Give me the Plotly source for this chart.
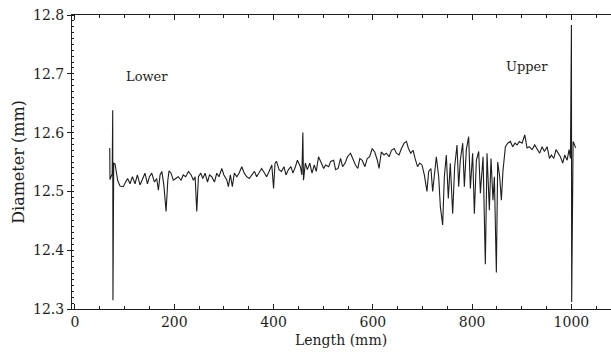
import plotly.graph_objects as go

# Length (mm) and diameter (mm)
length_mm = [
    70, 70.5, 75, 76, 76.5, 78, 80.6, 86, 90.7, 97.4, 102, 106, 111, 115.6, 121, 125.7, 131, 136, 141, 146,
    150, 154.6, 160, 164.6, 168, 171.4, 175, 179, 183.5, 187, 189.5, 193.6, 198, 203, 208, 213.7, 218, 223,
    228.5, 234, 238.6, 242, 245.3, 248.7, 253.4, 257.4, 262, 267, 271, 275.5, 281, 285.6, 290, 295.7, 300,
    306, 309, 313, 317, 321, 326, 330.5, 336, 341, 346, 351, 356, 361.6, 366, 371, 376, 382, 386, 391,
    396.5, 400, 403, 406, 411, 416, 421, 425, 430, 435, 439, 444, 448, 454, 457, 459, 460.3, 464, 468, 473,
    477.5, 482, 486, 490.6, 495, 501, 505, 511, 515, 521, 525, 530, 535, 539, 544, 549, 555, 559.5, 565,
    569.8, 573.8, 578.6, 584, 588.7, 593.5, 598.8, 603.8, 609, 612.5, 617, 622.6, 627, 632.8, 637.5, 643,
    647.5, 652.8, 657.6, 663, 667.7, 671.7, 676.4, 681, 685, 690, 694.5, 699, 703.7, 709, 712.4, 717,
    720.5, 724.5, 727.9, 732.6, 736, 740.6, 744, 748, 752, 756, 760.8, 764.8, 769.5, 772.9, 776.2, 781,
    784.3, 788.3, 793, 796.4, 801, 804.5, 808.5, 813.2, 816.6, 822, 826.6, 830, 834.7, 838, 842, 844.8,
    848.8, 851.5, 855.5, 858.9, 862, 867, 871.7, 877, 881.7, 886.4, 890.5, 895, 900.6, 906, 910.6, 915,
    920.7, 926, 930.8, 936, 940.9, 945.6, 951, 955.7, 959.7, 964.4, 969, 973.8, 977.8, 982.5, 986.6,
    991.3, 995.3, 998, 1000, 1000.5, 1003.4, 1008.7,
]
diameter_mm = [
    12.574, 12.520, 12.530, 12.638, 12.315, 12.548, 12.547, 12.519, 12.509, 12.508, 12.516, 12.522, 12.513,
    12.525, 12.513, 12.528, 12.511, 12.521, 12.531, 12.513, 12.525, 12.531, 12.516, 12.522, 12.502, 12.528,
    12.534, 12.511, 12.466, 12.519, 12.535, 12.531, 12.519, 12.522, 12.525, 12.519, 12.528, 12.525, 12.534,
    12.528, 12.519, 12.525, 12.466, 12.525, 12.531, 12.522, 12.531, 12.516, 12.528, 12.525, 12.516, 12.531,
    12.525, 12.539, 12.528, 12.519, 12.508, 12.528, 12.508, 12.531, 12.525, 12.531, 12.542, 12.531, 12.525,
    12.522, 12.528, 12.534, 12.525, 12.531, 12.539, 12.531, 12.525, 12.534, 12.545, 12.505, 12.548, 12.551,
    12.537, 12.534, 12.542, 12.528, 12.537, 12.542, 12.531, 12.542, 12.553, 12.542, 12.528, 12.600, 12.519,
    12.548, 12.537, 12.548, 12.531, 12.545, 12.534, 12.559, 12.551, 12.539, 12.545, 12.542, 12.551, 12.553,
    12.537, 12.539, 12.556, 12.542, 12.548, 12.559, 12.565, 12.556, 12.545, 12.539, 12.556, 12.553, 12.542,
    12.556, 12.559, 12.573, 12.567, 12.553, 12.539, 12.567, 12.562, 12.565, 12.559, 12.570, 12.573, 12.565,
    12.562, 12.573, 12.582, 12.585, 12.573, 12.565, 12.570, 12.556, 12.542, 12.548, 12.545, 12.528, 12.500,
    12.534, 12.539, 12.500, 12.534, 12.559, 12.525, 12.474, 12.443, 12.525, 12.562, 12.488, 12.548, 12.462,
    12.542, 12.579, 12.508, 12.553, 12.582, 12.508, 12.571, 12.593, 12.505, 12.565, 12.462, 12.553, 12.568,
    12.497, 12.559, 12.376, 12.565, 12.468, 12.556, 12.485, 12.525, 12.362, 12.550, 12.525, 12.485, 12.534,
    12.576, 12.582, 12.585, 12.576, 12.582, 12.579, 12.585, 12.582, 12.596, 12.574, 12.576, 12.571, 12.579,
    12.571, 12.565, 12.576, 12.568, 12.576, 12.556, 12.562, 12.556, 12.571, 12.565, 12.559, 12.548, 12.562,
    12.553, 12.571, 12.556, 12.783, 12.312, 12.585, 12.574,
]

x_ticks = [0, 200, 400, 600, 800, 1000]
y_ticks = [12.3, 12.4, 12.5, 12.6, 12.7, 12.8]
labels = [("Lower", 145, 12.696), ("Upper", 911, 12.712)]

font_family = "DejaVu Serif"
ink = "#1e1e1e"

fig = go.Figure()
fig.add_trace(go.Scatter(
    x=length_mm, y=diameter_mm, mode="lines",
    line=dict(color=ink, width=1.1), showlegend=False, hoverinfo="skip",
))

for text, lx, ly in labels:
    fig.add_annotation(x=lx, y=ly, text=text, showarrow=False,
                       font=dict(family=font_family, size=13, color=ink))

# x-axis title, centred under the visible part of the plot
fig.add_annotation(x=0.481, y=-0.105, xref="paper", yref="paper", text="Length (mm)",
                   showarrow=False, xanchor="center", yanchor="middle",
                   font=dict(family=font_family, size=14, color=ink))

# Plot area runs past the right edge of the 611 px window, as in the scan
fig.update_layout(
    width=660, height=352,
    margin=dict(l=72, r=29, t=15, b=43, autoexpand=False),
    paper_bgcolor="white", plot_bgcolor="white",
    font=dict(family=font_family, size=13, color=ink),
)
fig.update_xaxes(
    range=[-6, 1120], tickvals=x_ticks, ticktext=[str(v) for v in x_ticks],
    automargin=False,
    showgrid=False, zeroline=False, showline=True, linecolor=ink, linewidth=1,
    mirror="ticks", ticks="inside", ticklen=5, tickcolor=ink,
    minor=dict(dtick=50, tick0=0, ticks="inside", ticklen=3, tickcolor=ink, showgrid=False),
    tickfont=dict(family=font_family, size=14, color=ink),
)
fig.update_yaxes(
    range=[12.3, 12.8], tickvals=y_ticks, ticktext=[f"{v:.1f}" for v in y_ticks],
    automargin=False,
    showgrid=False, zeroline=False, showline=True, linecolor=ink, linewidth=1,
    ticks="outside", ticklen=4, tickcolor=ink,
    minor=dict(dtick=0.01, tick0=12.3, ticks="inside", ticklen=2, tickcolor=ink, showgrid=False),
    tickfont=dict(family=font_family, size=14, color=ink),
    title=dict(text="Diameter (mm)", font=dict(family=font_family, size=16, color=ink), standoff=4),
)

fig.write_html(
    "out.html",
    config={"displayModeBar": False},
    post_script="document.body.style.margin='0';document.body.style.overflow='hidden';",
)
